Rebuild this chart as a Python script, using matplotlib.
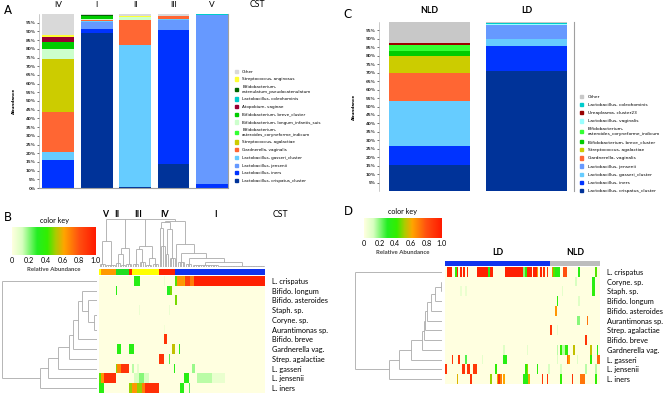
import numpy as np
import matplotlib
matplotlib.use("Agg")
import matplotlib.pyplot as plt
from matplotlib.colors import LinearSegmentedColormap, ListedColormap
from matplotlib.patches import Patch

plt.rcParams['font.family'] = ['DejaVu Sans']

W, H = 669, 394

# ---------------- panel A : community state types ----------------
a_groups = ["IV", "I", "II", "III", "V"]
# stacked bottom -> top
a_species = ["Lactobacillus, crispatus_cluster", "Lactobacillus, iners", "Lactobacillus, jensenii",
             "Lactobacillus, gasseri_cluster", "Gardnerella, vaginalis", "Streptococcus, agalactiae",
             "Bifidobacterium,\nasteroides_coryneforme_indicum", "Bifidobacterium, longum_infantis_suis",
             "Bifidobacterium, breve_cluster", "Atopobium, vaginae", "Lactobacillus, coleohominis",
             "Bifidobacterium,\ncatenulatum_pseudocatenulatum", "Streptococcus, anginosus", "Other"]
a_values = [
    [0.0, 89.2, 0.4, 13.8, 0.0],
    [16.0, 2.3, 0.0, 77.2, 2.1],
    [0.0, 3.7, 0.0, 5.3, 97.1],
    [4.8, 0.8, 81.9, 0.8, 0.0],
    [23.0, 0.8, 14.0, 1.5, 0.0],
    [30.2, 0.0, 0.0, 0.0, 0.0],
    [0.4, 0.0, 0.0, 0.0, 0.0],
    [5.4, 0.3, 1.7, 0.0, 0.0],
    [4.2, 1.5, 0.0, 0.0, 0.0],
    [2.6, 0.0, 0.0, 0.0, 0.0],
    [0.0, 0.0, 0.0, 0.0, 0.8],
    [0.3, 0.6, 0.0, 0.0, 0.0],
    [1.2, 0.0, 0.8, 0.0, 0.0],
    [11.9, 0.8, 1.2, 1.4, 0.0],
]
a_colors = ["#003399", "#0033ff", "#6699ff", "#66ccff", "#ff6633", "#cccc00", "#33ff33",
            "#ccffcc", "#00cc00", "#990033", "#00cccc", "#006600", "#ffff33", "#d9d9d9"]

# ---------------- panel C : NLD vs LD ----------------
c_groups = ["NLD", "LD"]
c_species = ["Lactobacillus, crispatus_cluster", "Lactobacillus, iners", "Lactobacillus, gasseri_cluster",
             "Lactobacillus, jensenii", "Gardnerella, vaginalis", "Streptococcus, agalactiae",
             "Bifidobacterium, breve_cluster", "Bifidobacterium,\nasteroides_coryneforme_indicum",
             "Lactobacillus, vaginalis", "Ureaplasma, cluster23", "Lactobacillus, coleohominis", "Other"]
c_values = [
    [15.6, 71.1],
    [11.3, 14.5],
    [26.5, 4.5],
    [0.0, 7.9],
    [16.2, 0.0],
    [10.0, 0.0],
    [3.4, 0.0],
    [3.2, 0.0],
    [0.0, 0.6],
    [1.3, 0.0],
    [0.0, 0.6],
    [12.5, 0.8],
]
c_colors = ["#003399", "#0033ff", "#66ccff", "#6699ff", "#ff6633", "#cccc00", "#00cc00",
            "#33ff33", "#99ffff", "#990000", "#00cccc", "#c8c8c8"]

# ---------------- panel B : heatmap by CST ----------------
b_rows = ["L. crispatus", "Bifido. longum", "Bifido. asteroides", "Staph. sp.", "Coryne. sp.",
          "Aurantimonas sp.", "Bifido. breve", "Gardnerella vag.", "Strep. agalactiae",
          "L. gasseri", "L. jensenii", "L. iners"]
b_ncols = 100
b_spans = [
    [(21, 25, 0.35), (39, 40, 0.05), (46, 47, 0.45), (47, 51, 0.65), (51, 52, 0.6),
     (52, 55, 0.85), (55, 57, 0.7), (57, 100, 0.97)],
    [(10, 11, 0.35), (41, 43, 0.3), (43, 44, 0.48)],
    [(46, 47, 0.48)],
    [(24, 25, 0.06), (42, 43, 0.06)],
    [],
    [(39, 40, 0.04)],
    [(39, 41, 0.9)],
    [(11, 13, 0.35), (18, 21, 0.35), (44, 46, 0.55), (48, 49, 0.35)],
    [(36, 39, 0.9), (42, 43, 0.25)],
    [(10, 11, 0.5), (11, 13, 0.68), (13, 18, 0.9), (20, 21, 0.15), (23, 24, 0.08),
     (45, 46, 0.35), (56, 58, 0.18)],
    [(0, 1, 0.45), (1, 3, 0.65), (3, 10, 0.92), (21, 24, 0.12), (24, 27, 0.2), (27, 30, 0.12),
     (51, 54, 0.35), (59, 68, 0.15), (68, 76, 0.07)],
    [(0, 1, 0.38), (1, 3, 0.35), (18, 20, 0.5), (20, 23, 0.65), (23, 26, 0.5), (26, 28, 0.7),
     (28, 36, 0.92), (49, 51, 0.35), (54, 55, 0.25)],
]
b_bar_starts = [0, 1, 10, 18, 20, 36, 46]
b_bar_colors = ["#ffff00", "#ff9900", "#22dd22", "#ff2200", "#ffff00", "#ff2200", "#1133ee"]
b_cluster_labels = ["V", "II", "III", "IV", "I"]
b_cluster_pos = [3, 10.2, 23, 39, 70]

# ---------------- panel D : heatmap by LD / NLD ----------------
d_rows = ["L. crispatus", "Coryne. sp.", "Staph. sp.", "Bifido. longum", "Bifido. asteroides",
          "Aurantimonas sp.", "Strep. agalactiae", "Bifido. breve", "Gardnerella vag.",
          "L. gasseri", "L. jensenii", "L. iners"]
d_ncols = 93
d_spans = [
    [(1, 4, 0.95), (6, 7, 0.4), (7, 8, 0.95), (9, 10, 0.95), (11, 12, 0.95), (13, 14, 0.95),
     (19, 26, 0.97), (26, 27, 0.35), (27, 29, 0.95), (36, 47, 0.97), (47, 48, 0.2), (48, 49, 0.4),
     (49, 52, 0.95), (53, 55, 0.95), (55, 56, 0.65), (57, 58, 0.95), (59, 60, 0.9), (61, 62, 0.9),
     (64, 65, 0.7), (65, 66, 0.45), (66, 69, 0.35), (71, 73, 0.8), (80, 81, 0.35), (90, 91, 0.45)],
    [(78, 79, 0.12), (88, 90, 0.35)],
    [(9, 10, 0.06), (12, 13, 0.06), (70, 71, 0.08), (88, 90, 0.38)],
    [(67, 68, 0.38), (80, 81, 0.1)],
    [(66, 67, 0.65)],
    [(79, 81, 0.2), (85, 86, 0.72)],
    [(63, 64, 0.9), (67, 68, 0.08)],
    [(84, 85, 0.9)],
    [(35, 36, 0.1), (49, 50, 0.08), (67, 68, 0.15), (69, 70, 0.4), (70, 72, 0.15), (72, 73, 0.4),
     (73, 74, 0.35), (77, 78, 0.55), (87, 88, 0.55), (91, 92, 0.35)],
    [(4, 5, 0.9), (8, 9, 0.9), (12, 13, 0.25), (22, 23, 0.08), (35, 37, 0.35), (67, 68, 0.1),
     (73, 74, 0.75), (74, 75, 0.65), (79, 80, 0.1), (87, 88, 0.4), (91, 93, 0.75)],
    [(0, 1, 0.9), (10, 12, 0.9), (13, 15, 0.9), (17, 19, 0.88), (30, 31, 0.4), (48, 49, 0.4),
     (49, 50, 0.5), (55, 56, 0.38), (62, 63, 0.12), (69, 70, 0.12), (84, 85, 0.15), (90, 91, 0.15)],
    [(7, 8, 0.58), (15, 16, 0.9), (27, 28, 0.5), (31, 32, 0.6), (32, 33, 0.9), (33, 34, 0.7),
     (35, 36, 0.62), (47, 50, 0.35), (50, 51, 0.6), (58, 59, 0.9), (61, 62, 0.9), (69, 70, 0.4),
     (76, 77, 0.9), (81, 84, 0.72), (90, 91, 0.4)],
]
d_bar_starts = [0, 63]
d_bar_colors = ["#1133ee", "#bdbdbd"]
d_group_labels = ["LD", "NLD"]
d_group_pos = [31, 77.5]


# ---------------- dendrograms (heights) ----------------
def grp(a, b, h):
    return (h, list(range(a, b)))


def ladder(first, steps):
    node = first
    for leaf, h in steps:
        node = (h, [node, leaf])
    return node


b_row_tree = ladder((0.5, [3, 4]), [(5, 3), (2, 9), (1, 15), (6, 19), (7, 24), (8, 28),
                                    (9, 39), (10, 49), (11, 57), (0, 95)])
d_row_tree = ladder((1.3, [1, 2]), [(3, 7.3), (4, 11.3), (5, 14.7), (6, 16.7), (7, 18.3), (8, 20),
                                    (9, 30.7), (10, 43.3), (11, 52.7), (0, 87.3)])

cst_V = (24, [grp(0, 4, 3), grp(4, 10, 2)])
cst_II = (18, [(12, [grp(10, 13, 4), grp(13, 16, 2)]), grp(16, 20, 3)])
cst_III = (20, [(17, [grp(20, 24, 3), grp(24, 28, 5)]), (8, [grp(28, 32, 2), grp(32, 36, 3)])])
cst_IV = (42, [(37, [36, grp(37, 40, 20)]), (36, [grp(40, 42, 12), grp(42, 46, 8)])])
cst_I = (22, [46, (13, [grp(47, 52, 5), (8, [grp(52, 56, 3),
                                               (5, [grp(56, 72, 1.5), grp(72, 100, 0.8)])])])])
b_col_tree = (45, [cst_V, cst_II, cst_III, (43, [cst_IV, cst_I])])

key_cmap = LinearSegmentedColormap.from_list("key", [
    (0.0, "#ffffe0"), (0.12, "#d8ffc0"), (0.3, "#22ee22"), (0.42, "#33ee00"),
    (0.52, "#aacc00"), (0.62, "#ffa500"), (0.8, "#ff5010"), (1.0, "#ff1a00")])
DENDRO = "#aaaaaa"


def px_axes(fig, x0, y0, x1, y1):
    return fig.add_axes([x0 / W, 1 - y1 / H, (x1 - x0) / W, (y1 - y0) / H])


def draw_tree(ax, node, orient):
    if isinstance(node, int):
        return node, 0.0
    h, kids = node
    pts = [draw_tree(ax, k, orient) for k in kids]
    lo = min(p for p, _ in pts)
    hi = max(p for p, _ in pts)
    for p, kh in pts:
        seg(ax, [p, p], [kh, h], orient)
    seg(ax, [lo, hi], [h, h], orient)
    return (lo + hi) / 2, h


def seg(ax, pos, hts, orient):
    if orient == "top":
        ax.plot(pos, hts, color=DENDRO, lw=0.6, solid_capstyle="butt")
    else:
        ax.plot(hts, pos, color=DENDRO, lw=0.6, solid_capstyle="butt")


def build(spans, ncols):
    m = np.zeros((len(spans), ncols))
    for i, row in enumerate(spans):
        for a, b, v in row:
            m[i, a:b] = v
    return m


def strip(ax, starts, colors, ncols):
    idx = np.zeros(ncols, int)
    for k, s in enumerate(starts):
        idx[s:] = k
    ax.imshow(idx[None, :], aspect="auto", cmap=ListedColormap(colors),
              vmin=-0.5, vmax=len(colors) - 0.5, interpolation="nearest")
    ax.set_axis_off()


def color_key(fig, x0, y0, x1, y1):
    ax = px_axes(fig, x0, y0, x1, y1)
    ax.imshow(np.linspace(0, 1, 256)[None, :], aspect="auto", cmap=key_cmap,
              extent=(0, 1, 0, 1))
    ax.set_xticks([0, 0.2, 0.4, 0.6, 0.8, 1.0])
    ax.set_xticklabels(["0", "0.2", "0.4", "0.6", "0.8", "1.0"], fontsize=5.2, family="Lato")
    ax.set_yticks([])
    ax.tick_params(axis="x", length=0, pad=1.5)
    for s in ax.spines.values():
        s.set_visible(False)
    ax.set_xlabel("Relative Abundance", fontsize=4.3, family="Lato", fontweight="bold",
                  color="#444444", labelpad=2)
    ax.set_title("color key", fontsize=5.2, family="Lato", pad=3)
    return ax


def heatmap(fig, rect, spans, ncols, rows):
    ax = px_axes(fig, *rect)
    ax.imshow(build(spans, ncols), aspect="auto", cmap=key_cmap, vmin=0, vmax=1,
              interpolation="nearest")
    ax.set_xticks([])
    ax.set_yticks(range(len(rows)))
    ax.set_yticklabels(rows, fontsize=5.3, family="Lato")
    ax.yaxis.tick_right()
    ax.tick_params(axis="y", length=0, pad=5)
    for s in ax.spines.values():
        s.set_visible(False)
    return ax


def bar_panel(fig, rect, groups, species, values, colors, xlim, ticks):
    ax = px_axes(fig, *rect)
    x = np.arange(len(groups))
    bottom = np.zeros(len(groups))
    for vals, col in zip(values, colors):
        vals = np.array(vals)
        ax.bar(x, vals, 0.83, bottom=bottom, color=col, linewidth=0)
        bottom += vals
    ax.set_xlim(*xlim)
    ax.set_ylim(0, 100)
    ax.set_xticks([])
    ax.set_yticks(ticks)
    ax.set_yticklabels([f"{t}%" for t in ticks], fontsize=3.0, fontweight="bold", color="#333333")
    ax.tick_params(axis="y", length=1.5, width=0.4, pad=1)
    ax.spines["top"].set_visible(False)
    for s in ["left", "right", "bottom"]:
        ax.spines[s].set_color("#a0a0a0")
        ax.spines[s].set_linewidth(0.8)
    ax.spines["left"].set_linewidth(0.4)
    ax.set_ylabel("Abundance", fontsize=3.0, fontweight="bold", labelpad=7)
    return ax


fig = plt.figure(figsize=(W / 100, H / 100), dpi=100)

# ---- A ----
axA = bar_panel(fig, (39, 14, 228, 188), a_groups, a_species, a_values, a_colors,
                (-0.5, 4.42), np.arange(0, 100, 5))
for i, g in enumerate(a_groups):
    axA.text(i, 105.3, g, ha="center", va="center", fontsize=6, family="Lato", clip_on=False)
axA.text(5.18, 105.3, "CST", ha="center", va="center", fontsize=6.3, family="Lato", clip_on=False)
handles = [Patch(color=c) for c in a_colors[::-1]]
axA.legend(handles, a_species[::-1], loc="upper left", bbox_to_anchor=(233 / W, 1 - 68 / H),
           bbox_transform=fig.transFigure, frameon=False, fontsize=3.0, handlelength=0.8,
           handleheight=0.8, handletextpad=1.0, labelspacing=0.88, borderaxespad=0)

# ---- C ----
axC = bar_panel(fig, (379, 22, 574, 191), c_groups, c_species, c_values, c_colors,
                (-0.52, 1.49), np.arange(5, 100, 5))
axC.spines["bottom"].set_visible(False)
for i, g in enumerate(c_groups):
    axC.text(i, 107, g, ha="center", va="center", fontsize=6.3, fontweight="bold",
             family="Lato", clip_on=False)
handles = [Patch(color=c) for c in c_colors[::-1]]
axC.legend(handles, c_species[::-1], loc="upper left", bbox_to_anchor=(578 / W, 1 - 93 / H),
           bbox_transform=fig.transFigure, frameon=False, fontsize=3.2, handlelength=0.8,
           handleheight=0.8, handletextpad=1.0, labelspacing=0.88, borderaxespad=0)

# ---- B ----
color_key(fig, 12, 227, 96, 255)
heatmap(fig, (99, 276, 265, 393), b_spans, b_ncols, b_rows)
axb = px_axes(fig, 99, 269, 265, 275)
strip(axb, b_bar_starts, b_bar_colors, b_ncols)
axd = px_axes(fig, 2, 276, 97, 393)
draw_tree(axd, b_row_tree, "left")
axd.set_xlim(95.5, 0)
axd.set_ylim(11.5, -0.5)
axd.set_axis_off()
axt = px_axes(fig, 99, 218, 265, 267)
draw_tree(axt, b_col_tree, "top")
axt.set_xlim(-0.5, b_ncols - 0.5)
axt.set_ylim(0, 46)
axt.set_axis_off()
for lab, p in zip(b_cluster_labels, b_cluster_pos):
    axt.text(p, 1.07, lab, ha="center", va="center", fontsize=6.3, fontweight="bold",
             family="Lato", transform=axt.get_xaxis_transform(), clip_on=False)
axt.text(109, 1.07, "CST", ha="center", va="center", fontsize=6.3, family="Lato",
         transform=axt.get_xaxis_transform(), clip_on=False)

# ---- D ----
color_key(fig, 364, 218, 442, 238)
heatmap(fig, (445, 267, 600, 384), d_spans, d_ncols, d_rows)
axb = px_axes(fig, 445, 261, 600, 266)
strip(axb, d_bar_starts, d_bar_colors, d_ncols)
for lab, p in zip(d_group_labels, d_group_pos):
    axb.text(p, -2.3, lab, ha="center", va="center", fontsize=6.3, fontweight="bold",
             family="Lato", clip_on=False)
axd = px_axes(fig, 354, 267, 442, 384)
draw_tree(axd, d_row_tree, "left")
axd.set_xlim(88, 0)
axd.set_ylim(11.5, -0.5)
axd.set_axis_off()

# panel letters
for lab, x, y in [("A", 8, 10), ("B", 8, 217), ("C", 348, 15), ("D", 348, 212)]:
    fig.text(x / W, 1 - y / H, lab, fontsize=8.5, ha="center", va="center")

fig.savefig("out.png", dpi=100)
